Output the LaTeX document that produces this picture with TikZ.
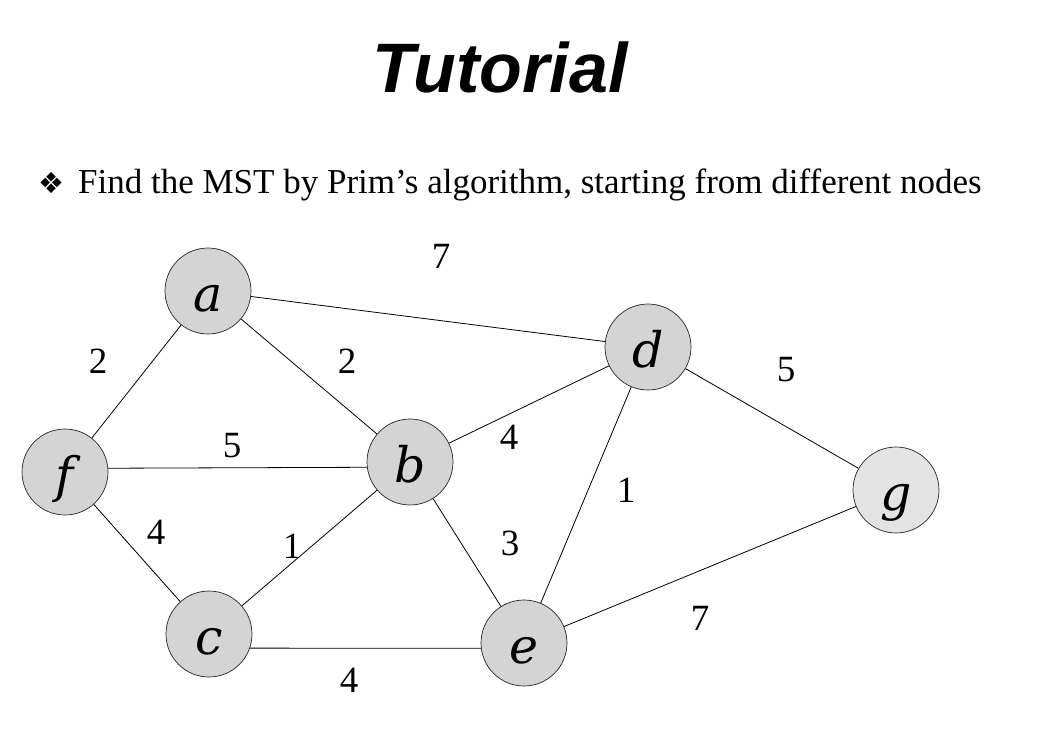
\documentclass[tikz,border=0pt]{standalone}
\usepackage{fontspec}
\setmainfont{Liberation Serif}
\newfontfamily\titlefont{Liberation Sans}
\newfontfamily\letterfont{DejaVu Serif}
\newfontfamily\symbfont{DejaVu Sans}
\begin{document}
\begin{tikzpicture}[x=1pt,y=-1pt,
  vertex/.style={circle,draw=black!85,line width=0.7pt,fill=black!17,minimum size=86pt,inner sep=0pt,
    text height=40pt,text depth=0pt,font=\letterfont\itshape\fontsize{49}{51}\selectfont},
  weight/.style={font=\fontsize{37}{40}\selectfont}]
\useasboundingbox (0,0) rectangle (1039,739);

\node[font=\titlefont\bfseries\itshape\fontsize{70}{74}\selectfont] (title) at (500,67) {Tutorial};
\node[anchor=base west,inner sep=0pt,font=\fontsize{35}{38}\selectfont] (task) at (38,193)
  {{\symbfont\fontsize{29}{30}\selectfont ❖}\hspace{14pt}Find the MST by Prim’s algorithm, starting from different nodes};

\node[vertex] (a) at (208,291) {a};
\node[vertex] (d) at (648,347) {d};
\node[vertex] (f) at (65,472) {f};
\node[vertex] (b) at (410,462) {b};
\node[vertex,fill=black!11] (g) at (896,490) {g};
\node[vertex] (c) at (209,634) {c};
\node[vertex] (e) at (524,643) {e};

\begin{scope}[line width=0.8pt]
\draw  (a) edge (d);
\draw  (a) edge (f);
\draw  (a) edge (b);
\draw  (f.5) -- (b.187);
\draw  (f) edge (c);
\draw  (c) edge (b);
\draw  (c.-19) -- (e.187);
\draw  (b) edge (d);
\draw  (b) edge (e);
\draw  (d) edge (e);
\draw  (d) edge (g);
\draw  (e) edge (g);
\end{scope}

\node[weight] at (441,256) {7};
\node[weight] at (98,361) {2};
\node[weight] at (347,361) {2};
\node[weight] at (786,370) {5};
\node[weight] at (232,446) {5};
\node[weight] at (509,437) {4};
\node[weight] at (626,490) {1};
\node[weight] at (156,532) {4};
\node[weight] at (292,546) {1};
\node[weight] at (510,543) {3};
\node[weight] at (700,618) {7};
\node[weight] at (349,680) {4};
\end{tikzpicture}
\end{document}
